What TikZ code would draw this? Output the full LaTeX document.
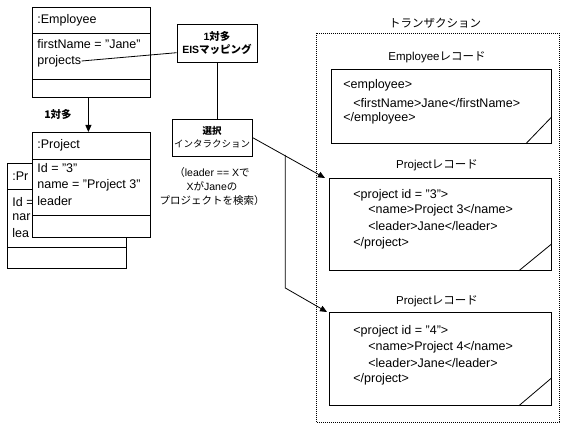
\documentclass[tikz,border=0pt]{standalone}
\usepackage{fontspec}
\setmainfont{Liberation Sans}
\newfontfamily\jp{Noto Sans CJK JP}
\usetikzlibrary{arrows.meta,calc}

\newcommand{\txt}{\fontsize{12.5}{15}\selectfont}
\newcommand{\lbl}{\fontsize{10.5}{13}\selectfont\bfseries}
\newcommand{\sml}{\fontsize{9.5}{13}\selectfont}

\begin{document}
\begin{tikzpicture}[x=1pt, y=-1pt, line width=0.8pt, >={Triangle[length=7pt,width=6pt]},
  umlbox/.style={draw, fill=white, anchor=north west, inner sep=0pt},
  attr/.style={anchor=west, inner sep=0pt, font=\txt},
  rec/.style={draw, anchor=north west, inner sep=0pt, minimum width=222pt},
  title/.style={inner sep=0pt, font=\fontsize{11.5}{13}\selectfont}]
  \useasboundingbox (0,0) rectangle (567,427);

  % employee object
  \node[umlbox, minimum width=118pt, minimum height=90pt] (emp) at (32,7) {};
  \draw (32,33) -- (150,33);
  \draw (32,79) -- (150,79);
  \node[attr] (empname) at (37,20) {:Employee};
  \node[attr] (first) at (37,44) {firstName = "Jane"};
  \node[attr] (projects) at (37,61) {projects};

  % project objects (back one first, mostly hidden)
  \node[umlbox, minimum width=119pt, minimum height=105pt] (projback) at (7,163) {};
  \draw (7,189) -- (126,189);
  \draw (7,247) -- (126,247);
  \node[attr] (pbname) at (12,176) {:Pr};
  \node[attr] (pbid) at (12,202) {Id =};
  \node[attr] (pbtitle) at (12,217) {nar};
  \node[attr] (pblead) at (12,233) {lea};

  \node[umlbox, minimum width=118pt, minimum height=105pt] (proj) at (32,132) {};
  \draw (32,159) -- (150,159);
  \draw (32,215) -- (150,215);
  \node[attr] (pname) at (37,145) {:Project};
  \node[attr] (pid) at (37,168) {Id = "3"};
  \node[attr] (ptitle) at (37,185) {name = "Project 3"};
  \node[attr] (plead) at (37,201) {leader};

  % one-to-many association
  \draw[->] ([xshift=-3pt]emp.south) -- ([xshift=-3pt]emp.south |- proj.north);
  \node[font=\lbl\jp, inner sep=0pt] (assoc) at (58,114) {1対多};

  % mapping and interaction notes
  \node[draw, fill=white, inner sep=0pt, minimum width=80pt, minimum height=38pt,
    align=center, font=\lbl] (map) at (217,43)
    {1{\jp 対多}\\EIS{\jp マッピング}};
  \draw (projects.east) -- ($(map.south west)!0.25!(map.north west)$);
  \node[draw, fill=white, inner sep=0pt, minimum width=80pt, minimum height=37pt,
    align=center, font=\sml\jp] (sel) at (212,137.5)
    {\textbf{選択}\\インタラクション};
  \draw (map.south) -- (map.south |- sel.north);
  \node[align=center, inner sep=0pt, font=\fontsize{10.5}{14}\selectfont] (query) at (212,187)
    {{\jp （}leader == X{\jp で}\\X{\jp が}Jane{\jp の}\\{\jp プロジェクトを検索）}};

  % transaction
  \draw[dash pattern=on 0.8pt off 1.2pt] (316,33) rectangle (559,422);
  \node[title, font=\fontsize{11.5}{13}\selectfont\jp] (trans) at (435,23) {トランザクション};

  % employee record
  \node[title] (emptitle) at (437,57) {Employee{\jp レコード}};
  \node[rec, minimum width=220pt, minimum height=74pt] (emprec) at (331,69) {};
  \draw ([xshift=-26pt]emprec.south east) -- ([yshift=27pt]emprec.south east);
  \node[attr] (e1) at (343,85) {<employee>};
  \node[attr] (e2) at (353,103) {<firstName>Jane</firstName>};
  \node[attr] (e3) at (343,118) {</employee>};

  % project records
  \node[title] (p1title) at (437,165) {Project{\jp レコード}};
  \node[rec, minimum height=92pt] (prec1) at (329,178) {};
  \draw ([xshift=-33pt]prec1.south east) -- ([yshift=27pt]prec1.south east);
  \node[attr] (r1a) at (353,195) {<project id = "3">};
  \node[attr] (r1b) at (368,210) {<name>Project 3</name>};
  \node[attr] (r1c) at (368,226) {<leader>Jane</leader>};
  \node[attr] (r1d) at (353,243) {</project>};

  \node[title] (p2title) at (437,301) {Project{\jp レコード}};
  \node[rec, minimum height=93pt] (prec2) at (329,312) {};
  \draw ([xshift=-33pt]prec2.south east) -- ([yshift=28pt]prec2.south east);
  \node[attr] (r2a) at (353,331) {<project id = "4">};
  \node[attr] (r2b) at (368,347) {<name>Project 4</name>};
  \node[attr] (r2c) at (368,363) {<leader>Jane</leader>};
  \node[attr] (r2d) at (353,379) {</project>};

  % selection arrows
  \draw[->] (sel.east) -- ([xshift=-4pt]prec1.north west);
  \coordinate (tap) at ($(sel.east)!0.43!(prec1.north west)$);
  \draw[->] (tap) -- (tap |- 0,288) -- ([xshift=-2pt]prec2.north west);
\end{tikzpicture}
\end{document}
